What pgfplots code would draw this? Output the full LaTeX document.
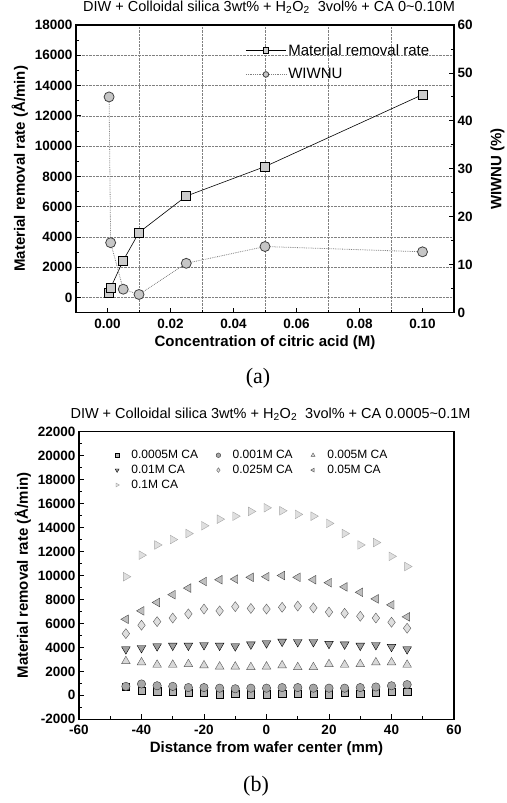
\documentclass[border=0pt]{standalone}
\usepackage{fontspec}
\setmainfont{Liberation Sans}
\newfontfamily\capfont{Liberation Serif}
\usepackage{pgfplots}
\pgfplotsset{compat=1.18}
\usetikzlibrary{plotmarks}

\pgfplotsset{
  base/.style={
    scale only axis, anchor=south west,
    axis line style={line width=1.1pt},
    every tick/.style={black, line width=0.9pt},
    major tick length=5pt, minor tick length=3pt,
    tick label style={font=\fontsize{13.5}{13.5}\selectfont\bfseries},
    label style={font=\fontsize{15}{15}\selectfont\bfseries},
    title style={font=\fontsize{14.5}{14.5}\selectfont, yshift=2pt, xshift=4pt},
    scaled y ticks=false,
    /pgf/number format/assume math mode=true,
    /pgf/number format/1000 sep={},
  },
}

\begin{document}
\begin{tikzpicture}
\useasboundingbox (0pt,0pt) rectangle (506pt,-803pt);

% (a) removal rate, left axis
\begin{axis}[base, at={(76pt,-312.7pt)}, width=378pt, height=287.7pt,
  xmin=-0.01, xmax=0.11, ymin=-1000, ymax=18000,
  xtick={0,0.02,0.04,0.06,0.08,0.1},
  minor xtick={0.01,0.03,0.05,0.07,0.09},
  ytick={0,2000,...,18000}, minor ytick={1000,3000,...,17000},
  xtick pos=bottom, ytick pos=left,
  scaled x ticks=false,
  xticklabel style={yshift=-3pt, /pgf/number format/.cd, fixed, fixed zerofill, precision=2},
  ymajorgrids, xminorgrids,
  grid style={densely dotted, gray, line width=0.5pt},
  xlabel={Concentration of citric acid (M)},
  ylabel={Material removal rate (Å/min)},
  title={DIW + Colloidal silica 3wt\% + H\textsubscript{2}O\textsubscript{2}\ \ 3vol\% + CA 0\textasciitilde0.10M},
  legend style={at={(0.44,0.948)}, anchor=north west, draw=none, fill=none,
    font=\fontsize{15}{15}\selectfont, row sep=8pt},
  legend cell align=left,
  legend image code/.code={\draw[mark repeat=2, mark phase=2, #1, mark size=2.8pt]
    plot coordinates {(0pt,0pt) (20pt,0pt) (40pt,0pt)};},
]
\addplot[black, line width=0.6pt, mark=square*, mark size=4.5pt,
  mark options={solid, draw=black, fill=gray!40}]
  coordinates {(0.0005,300) (0.001,650) (0.005,2450) (0.01,4300)
               (0.025,6700) (0.05,8650) (0.1,13400)};
\addlegendentry{Material removal rate}
\addlegendimage{gray, line width=0.8pt, densely dotted, mark=*, mark size=5pt,
  mark options={solid, draw=gray!50!black, fill=gray!45}}
\addlegendentry{WIWNU}
\end{axis}

% (a) WIWNU, right axis
\begin{axis}[base, at={(76pt,-312.7pt)}, width=378pt, height=287.7pt,
  xmin=-0.01, xmax=0.11, ymin=0, ymax=60,
  axis y line*=right, axis x line=none,
  ytick={0,10,...,60}, minor ytick={5,15,...,55},
  ylabel={WIWNU (\%)},
  ylabel style={yshift=-11pt},
]
\addplot[gray, line width=0.8pt, densely dotted, mark=*, mark size=5pt,
  mark options={solid, draw=gray!50!black, fill=gray!45}]
  coordinates {(0.0005,45) (0.001,14.6) (0.005,4.9) (0.01,3.8)
               (0.025,10.3) (0.05,13.8) (0.1,12.7)};
\end{axis}

\node[font=\capfont\fontsize{22}{22}\selectfont] at (258pt,-378pt) {(a)};

% (b) removal rate profiles
\begin{axis}[base, at={(79pt,-719.3pt)}, width=375pt, height=287.6pt,
  xmin=-60, xmax=60, ymin=-2000, ymax=22000,
  xtick={-60,-40,...,60}, minor xtick={-50,-30,...,50},
  ytick={-2000,0,...,22000}, minor ytick={-1000,1000,...,21000},
  xtick pos=bottom, ytick pos=left,
  xticklabel style={yshift=-2pt},
  xlabel={Distance from wafer center (mm)},
  ylabel={Material removal rate (Å/min)},
  title={DIW + Colloidal silica 3wt\% + H\textsubscript{2}O\textsubscript{2}\ \ 3vol\% + CA 0.0005\textasciitilde0.1M},
  legend columns=3,
  legend style={at={(0.087,0.95)}, anchor=north west, draw=none, fill=none,
    font=\fontsize{12}{12}\selectfont, row sep=1pt,
    /tikz/every odd column/.style={column sep=0pt},
    /tikz/every even column/.style={column sep=16pt}},
  legend cell align=left,
  legend image code/.code={\path[draw=none, fill=none] (-2.3pt,0pt) (12.3pt,0pt);
    \draw[#1, mark size=2.3pt] plot coordinates {(0pt,0pt)};},
  every axis plot/.append style={only marks},
]
\addplot[mark=square*, mark size=3.6pt, mark options={draw=black, fill=gray!60}]
  coordinates {(-45,700) (-40,400) (-35,350) (-30,300) (-25,250) (-20,200) (-15,100)
    (-10,150) (-5,100) (0,100) (5,150) (10,150) (15,150) (20,100) (25,200) (30,150)
    (35,200) (40,300) (45,300)};
\addlegendentry{0.0005M CA}
\addplot[mark=*, mark size=4.2pt, mark options={draw=gray!40!black, fill=gray!70}]
  coordinates {(-45,750) (-40,950) (-35,800) (-30,750) (-25,650) (-20,650) (-15,600)
    (-10,550) (-5,600) (0,600) (5,650) (10,650) (15,600) (20,600) (25,600) (30,650)
    (35,700) (40,800) (45,900)};
\addlegendentry{0.001M CA}
\addplot[mark=triangle*, mark size=5pt, mark options={draw=gray!70!black, fill=gray!30}]
  coordinates {(-45,2850) (-40,2750) (-35,2550) (-30,2550) (-25,2600) (-20,2500) (-15,2400)
    (-10,2400) (-5,2350) (0,2400) (5,2500) (10,2350) (15,2350) (20,2600) (25,2550) (30,2600)
    (35,2750) (40,2750) (45,2550)};
\addlegendentry{0.005M CA}
\addplot[mark=triangle*, mark size=5pt, mark options={rotate=180, draw=black, fill=gray!75}]
  coordinates {(-45,3850) (-40,3950) (-35,4100) (-30,4150) (-25,4150) (-20,4200) (-15,4150)
    (-10,4100) (-5,4250) (0,4350) (5,4480) (10,4450) (15,4450) (20,4300) (25,4250) (30,4150)
    (35,4200) (40,4050) (45,3850)};
\addlegendentry{0.01M CA}
\addplot[mark=diamond*, mark size=5pt, mark options={draw=gray!70!black, fill=gray!25}]
  coordinates {(-45,5150) (-40,5850) (-35,6150) (-30,6450) (-25,6800) (-20,7200) (-15,7050)
    (-10,7400) (-5,7250) (0,7200) (5,7350) (10,7450) (15,7300) (20,6950) (25,6850) (30,6600)
    (35,6450) (40,6100) (45,5600)};
\addlegendentry{0.025M CA}
\addplot[mark=triangle*, mark size=5pt, mark options={rotate=90, draw=gray!60!black, fill=gray!50}]
  coordinates {(-45,6350) (-40,7050) (-35,7750) (-30,8400) (-25,8950) (-20,9500) (-15,9650)
    (-10,9700) (-5,9850) (0,9900) (5,10000) (10,9850) (15,9650) (20,9400) (25,9050) (30,8600)
    (35,8050) (40,7550) (45,6550)};
\addlegendentry{0.05M CA}
\addplot[mark=triangle*, mark size=5pt, mark options={rotate=-90, draw=gray!70, fill=gray!25}]
  coordinates {(-45,9900) (-40,11700) (-35,12550) (-30,13000) (-25,13500) (-20,14150) (-15,14700)
    (-10,14950) (-5,15350) (0,15650) (5,15400) (10,15100) (15,14950) (20,14350) (25,13500) (30,12550)
    (35,12750) (40,11600) (45,10750)};
\addlegendentry{0.1M CA}
\end{axis}

\node[font=\capfont\fontsize{22}{22}\selectfont] at (256pt,-786pt) {(b)};
\end{tikzpicture}
\end{document}
